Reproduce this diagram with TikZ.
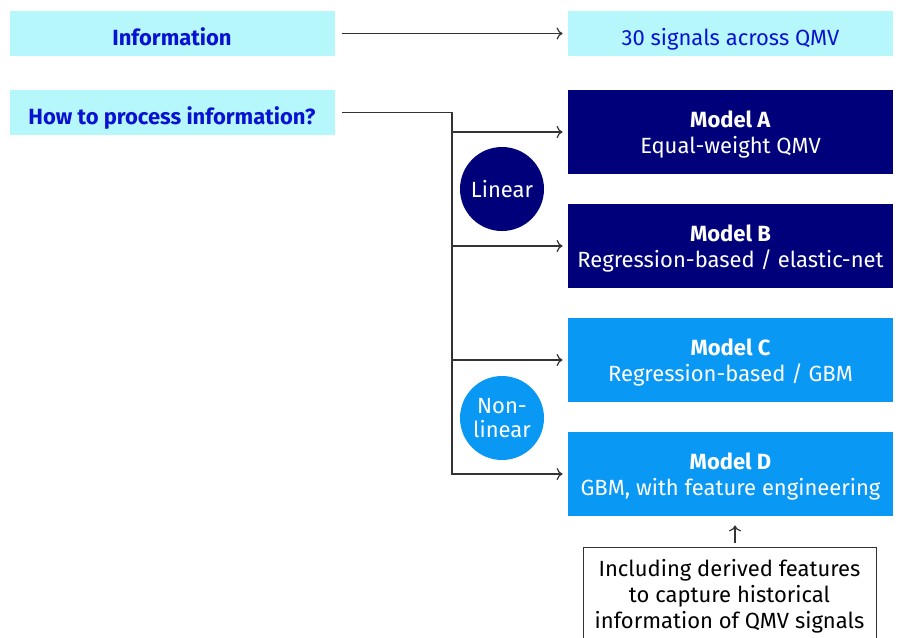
\documentclass[tikz,border=0pt]{standalone}
\usepackage{fontspec}
\setmainfont{Fira Sans}
\usetikzlibrary{arrows.meta}
\definecolor{paleCyan}{HTML}{B6F7FC}
\definecolor{inkBlue}{HTML}{0A12D2}
\definecolor{navy}{HTML}{00007A}
\definecolor{skyBlue}{HTML}{0A98F5}
\definecolor{lineGray}{HTML}{333333}
\begin{document}
\begin{tikzpicture}[x=.5pt,y=-.5pt,font=\fontsize{11}{13}\selectfont,
tag/.style={fill=paleCyan,text=inkBlue,minimum width=162.5pt,minimum height=22.5pt,inner sep=0,text height=13pt,text depth=1pt},
model/.style={fill=#1,text=white,minimum width=162.5pt,minimum height=42pt,align=center,inner sep=0,text depth=-1pt},
kind/.style={circle,fill=#1,text=white,minimum size=42pt,inner sep=0,align=center},
link/.style={draw=lineGray,line width=.6pt,-{To[length=3pt,width=6pt]}}]
\useasboundingbox(0,0)rectangle(899,637);
\node[tag,font=\fontsize{11}{13}\selectfont\bfseries](info)at(172,33.5){Information};
\node[tag](signals)at(730.5,33.5){30 signals across QMV};
\node[tag,font=\fontsize{11}{13}\selectfont\bfseries](howto)at(172,112.5){How to process information?};
\node[model=navy](mA)at(730.5,132){\textbf{Model A}\\Equal-weight QMV};
\node[model=navy](mB)at(730.5,246){\textbf{Model B}\\Regression-based / elastic-net};
\node[model=skyBlue](mC)at(730.5,360){\textbf{Model C}\\Regression-based / GBM};
\node[model=skyBlue](mD)at(730.5,474){\textbf{Model D}\\GBM, with feature engineering};
\node[kind=navy](lin)at(502,189){Linear};
\node[kind=skyBlue](nonlin)at(502,418){Non-\\[-1pt]linear};
\node[draw=lineGray,line width=.5pt,anchor=north,align=center,minimum width=146.5pt,minimum height=52pt,inner sep=1.5pt,text depth=5.5pt](note)at(729.5,547){Including derived features\\to capture historical\\information of QMV signals};
\coordinate(split)at(452,112.5);
\draw[link,shorten <=3.5pt,shorten >=2.5pt](info)--(signals);
\draw[link,shorten <=3.5pt,shorten >=2.5pt](howto.east)--(split)|-(mD.west);
\foreach \m in {mA,mB,mC}
\draw[link,shorten >=2.5pt](split|-\m.west)--(\m.west);
\draw[link,shorten <=2pt,shorten >=4.5pt](note.north-|735,0)--(mD.south-|735,0);
\end{tikzpicture}
\end{document}
